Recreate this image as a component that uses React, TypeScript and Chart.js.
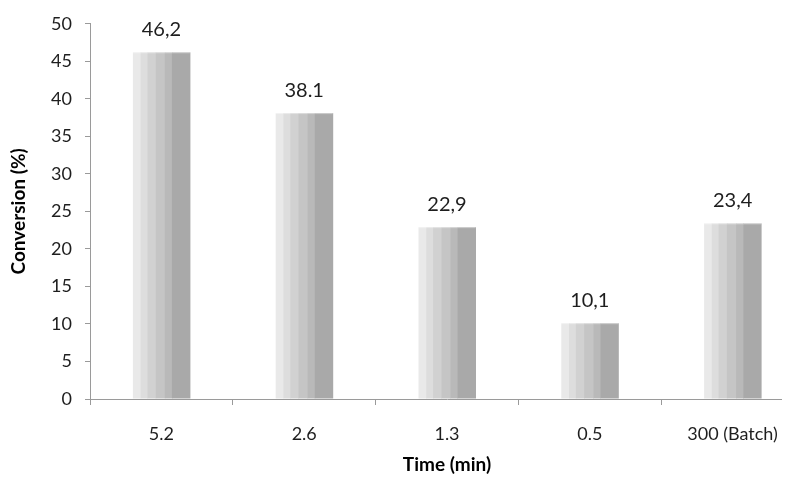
import React, { useEffect, useRef } from "react";
import { Chart, registerables } from "chart.js";

Chart.register(...registerables);

const categories = ["5.2", "2.6", "1.3", "0.5", "300 (Batch)"];
const conversion = [46.2, 38.1, 22.9, 10.1, 23.4];
const valueLabels = ["46,2", "38.1", "22,9", "10,1", "23,4"];
const yTicks = [0, 5, 10, 15, 20, 25, 30, 35, 40, 45, 50];

const stripeColors = ["#e9e9e9", "#dddddd", "#d1d1d1", "#c5c5c5", "#b9b9b9", "#a9a9a9"];
const stripeFractions = [0.135, 0.12, 0.145, 0.16, 0.125, 0.315];

const FONT = "Lato, 'Open Sans', sans-serif";

const stripedBars = {
  id: "stripedBars",
  afterDatasetsDraw(chart: any) {
    const ctx = chart.ctx;
    const meta = chart.getDatasetMeta(0);
    ctx.save();
    meta.data.forEach((el: any, i: number) => {
      const p = el.getProps(["x", "y", "base", "width"], true);
      const left = p.x - p.width / 2;
      const top = Math.min(p.y, p.base);
      const h = Math.abs(p.base - p.y);
      let cx = left;
      stripeFractions.forEach((f, k) => {
        const w = f * p.width;
        ctx.fillStyle = stripeColors[k];
        ctx.fillRect(cx, top, w + 0.5, h);
        cx += w;
      });
      ctx.fillStyle = "rgba(255,255,255,0.35)";
      ctx.fillRect(left, top, p.width, 1);
      // value label
      ctx.fillStyle = "#1e1e1e";
      ctx.font = `20px ${FONT}`;
      ctx.textAlign = "center";
      ctx.textBaseline = "alphabetic";
      ctx.fillText(valueLabels[i], p.x, p.y - 16);
    });
    ctx.restore();
  },
};

export default function App() {
  const ref = useRef<HTMLCanvasElement | null>(null);
  useEffect(() => {
    if (!ref.current) return;
    const chart = new Chart(ref.current, {
      type: "bar",
      data: {
        labels: categories,
        datasets: [
          {
            data: conversion,
            backgroundColor: "rgba(0,0,0,0)",
            borderWidth: 0,
            barThickness: 57,
          },
        ],
      },
      options: {
        responsive: false,
        animation: false,
        devicePixelRatio: 1,
        layout: { padding: { left: 0, top: 14, right: 26, bottom: 0 } },
        plugins: { legend: { display: false }, tooltip: { enabled: false } },
        scales: {
          x: {
            grid: {
              offset: true,
              drawOnChartArea: false,
              drawTicks: true,
              tickLength: 6,
              color: "#9a9a9a",
            },
            border: { color: "#9a9a9a", width: 1 },
            ticks: {
              color: "#1e1e1e",
              font: { family: FONT, size: 18 },
              padding: 18,
              maxRotation: 0,
              autoSkip: false,
            },
            title: {
              display: true,
              text: "Time (min)",
              color: "#000",
              font: { family: FONT, size: 19, weight: "bold" },
              padding: { top: 0, bottom: 6 },
            },
            afterFit: (s: any) => {
              s.height = 83;
            },
          },
          y: {
            min: 0,
            max: 50,
            afterBuildTicks: (s: any) => {
              s.ticks = yTicks.map((v) => ({ value: v }));
            },
            grid: {
              drawOnChartArea: false,
              drawTicks: true,
              tickLength: 5,
              color: "#9a9a9a",
            },
            border: { color: "#9a9a9a", width: 1 },
            ticks: {
              color: "#1e1e1e",
              font: { family: FONT, size: 18 },
              padding: 13,
            },
            title: {
              display: true,
              text: "Conversion (%)",
              color: "#000",
              font: { family: FONT, size: 19, weight: "bold" },
              padding: { top: 7, bottom: 0 },
            },
            afterFit: (s: any) => {
              s.width = 90;
            },
          },
        },
      },
      plugins: [stripedBars],
    });
    return () => chart.destroy();
  }, []);
  return (
    <div
      style={{
        position: "fixed",
        left: 0,
        top: 0,
        width: 782,
        height: 482,
        overflow: "hidden",
        background: "#fff",
      }}
    >
      <canvas ref={ref} width={830} height={482} style={{ display: "block" }} />
    </div>
  );
}
